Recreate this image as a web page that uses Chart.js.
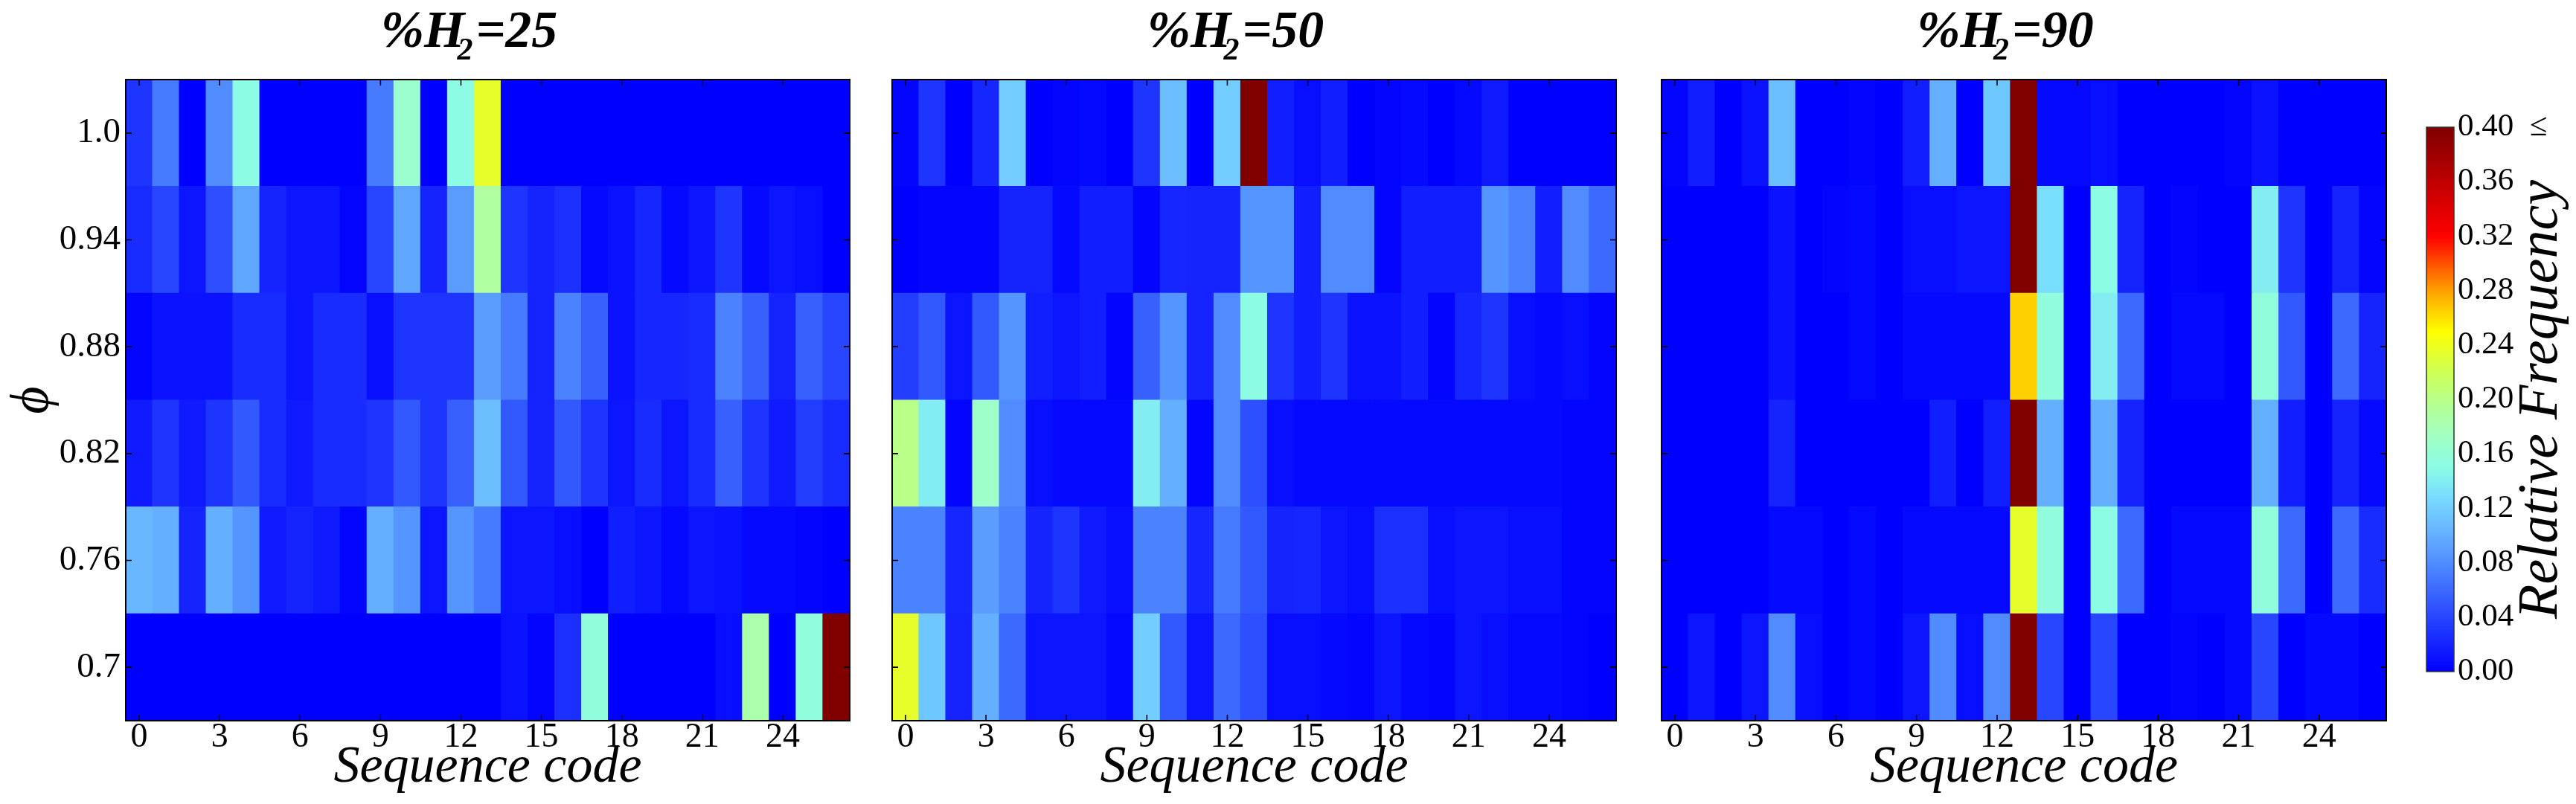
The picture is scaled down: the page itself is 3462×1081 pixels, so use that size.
<!DOCTYPE html>
<html>
<head>
<meta charset="utf-8">
<script src="https://cdn.jsdelivr.net/npm/chart.js@4.4.0/dist/chart.umd.min.js"></script>
<style>
  html, body { margin: 0; padding: 0; background: #ffffff; }
  #wrap { position: relative; width: 3462px; height: 1081px; overflow: hidden; background: #ffffff; }
  #wrap canvas { position: absolute; left: 0; top: 0; }
</style>
</head>
<body>
<div id="wrap">
  <canvas id="p1" width="3462" height="1081"></canvas>
  <canvas id="p2" width="3462" height="1081"></canvas>
  <canvas id="p3" width="3462" height="1081"></canvas>
  <canvas id="cb" width="3462" height="1081"></canvas>
</div>
<script>
// ---------------- DATA ----------------
// categories (sequence codes) and tick labels
const seqCodes = ['0','1','2','3','4','5','6','7','8','9','10','11','12','13','14','15','16','17','18','19','20','21','22','23','24','25','26'];
const xTickCodes = [0, 3, 6, 9, 12, 15, 18, 21, 24];
const phiLabels = ['0.7', '0.76', '0.82', '0.88', '0.94', '1.0'];   // bottom -> top
const h2Levels = ['25', '50', '90'];
const cbTicks = [0.00, 0.04, 0.08, 0.12, 0.16, 0.20, 0.24, 0.28, 0.32, 0.36, 0.40];
const cbTickLabels = ['0.00', '0.04', '0.08', '0.12', '0.16', '0.20', '0.24', '0.28', '0.32', '0.36', '0.40\u2002\u2264'];

// relative frequency, rows ordered phi = 0.7, 0.76, 0.82, 0.88, 0.94, 1.0 ; columns = sequence code 0..26
const freqH25 = [
  [0,0,0,0,0,0,0,0,0,0,0,0,0,0,0.01,0.003,0.027,0.155,0,0,0,0,0.008,0.185,0,0.155,0.42],
  [0.105,0.10,0.02,0.10,0.085,0.015,0.02,0.015,0.003,0.10,0.085,0.012,0.085,0.07,0.012,0.012,0.008,0,0.017,0.012,0.005,0.012,0.01,0.005,0.005,0.003,0],
  [0.015,0.03,0.015,0.03,0.05,0.025,0.015,0.025,0.025,0.03,0.05,0.03,0.055,0.11,0.05,0.02,0.05,0.03,0.012,0.025,0.012,0.025,0.055,0.03,0.015,0.035,0.025],
  [0.003,0.01,0.01,0.01,0.025,0.025,0.012,0.025,0.025,0.008,0.03,0.03,0.03,0.09,0.07,0.02,0.075,0.055,0.01,0.022,0.022,0.025,0.075,0.055,0.02,0.055,0.04],
  [0.025,0.04,0.012,0.045,0.095,0.02,0.012,0.012,0.003,0.04,0.095,0.02,0.09,0.19,0.03,0.02,0.027,0.005,0.01,0.022,0.005,0.012,0.03,0.005,0.012,0.008,0],
  [0.03,0.07,0,0.08,0.15,0,0,0,0,0.07,0.165,0,0.15,0.235,0,0,0,0,0,0,0,0,0,0,0,0,0]
];
const freqH50 = [
  [0.235,0.115,0.02,0.10,0.06,0.012,0.012,0.012,0.005,0.12,0.05,0.012,0.06,0.045,0.008,0.008,0.005,0.003,0.012,0.005,0.003,0.012,0.008,0.005,0.005,0.003,0],
  [0.075,0.075,0.022,0.09,0.075,0.02,0.03,0.015,0.008,0.075,0.075,0.022,0.07,0.05,0.02,0.022,0.012,0.008,0.027,0.027,0.008,0.012,0.012,0.008,0.008,0.003,0.003],
  [0.20,0.14,0.003,0.17,0.08,0.008,0.005,0.005,0.005,0.14,0.10,0.003,0.08,0.045,0.008,0.005,0.005,0.005,0.005,0.005,0.005,0.005,0.005,0.005,0.005,0.003,0.003],
  [0.035,0.05,0.012,0.05,0.085,0.017,0.012,0.017,0.003,0.055,0.085,0.02,0.08,0.15,0.03,0.017,0.03,0.01,0.01,0.017,0.003,0.022,0.03,0.008,0.005,0.008,0.003],
  [0,0.003,0.003,0.003,0.02,0.02,0.005,0.017,0.017,0.003,0.022,0.02,0.02,0.085,0.085,0.017,0.08,0.08,0.003,0.017,0.017,0.017,0.085,0.075,0.017,0.08,0.06],
  [0.003,0.03,0,0.022,0.12,0,0.003,0.005,0,0.03,0.11,0,0.12,0.42,0.017,0.008,0.017,0,0.003,0.005,0,0.005,0.015,0,0,0,0]
];
const freqH90 = [
  [0,0.012,0,0.012,0.08,0.008,0,0.005,0,0.012,0.08,0.008,0.08,0.42,0.04,0,0.04,0,0,0.003,0,0.005,0.04,0,0.005,0.005,0],
  [0,0,0,0,0.005,0.005,0,0.005,0,0.005,0.005,0.005,0.005,0.235,0.155,0,0.15,0.06,0,0.005,0.005,0.005,0.155,0.06,0,0.06,0.025],
  [0,0,0,0,0.02,0,0,0,0,0,0.017,0,0.017,0.42,0.10,0,0.10,0.02,0,0,0,0,0.10,0.017,0,0.02,0.005],
  [0,0,0,0,0.01,0,0,0.005,0,0.005,0.005,0.005,0.005,0.265,0.155,0,0.14,0.06,0,0.005,0.005,0,0.155,0.05,0,0.06,0.02],
  [0,0,0,0,0.01,0,0.003,0.005,0,0.008,0.008,0.012,0.012,0.42,0.13,0,0.15,0.02,0,0.003,0,0,0.14,0.03,0,0.02,0.003],
  [0.003,0.017,0,0.01,0.11,0,0,0.003,0,0.017,0.10,0,0.115,0.42,0.005,0.005,0.008,0,0,0,0,0.003,0.01,0,0,0,0]
];

// colour map (value -> rgb), saturates at 0.40
const cmapStops  = [0.00, 0.10, 0.13, 0.15, 0.17, 0.19, 0.22, 0.25, 0.28, 0.32, 0.40];
const cmapColors = [[0,0,255],[100,175,255],[122,222,255],[140,252,228],[158,255,200],[175,255,160],[205,255,85],[255,255,0],[255,160,0],[255,0,0],[128,0,0]];

// ---------------- STYLE / LAYOUT ----------------
const W = 3462, H = 1081;
const PLOT_TOP = 107, PLOT_BOTTOM = 969;
const SERIF = "'Liberation Serif', 'DejaVu Serif', serif";

function rgbStr(c) { return 'rgb(' + c[0] + ',' + c[1] + ',' + c[2] + ')'; }
function colorFor(v) {
  const vmax = cmapStops[cmapStops.length - 1];
  if (v <= cmapStops[0]) return rgbStr(cmapColors[0]);
  if (v >= vmax) return rgbStr(cmapColors[cmapColors.length - 1]);
  for (let i = 1; i < cmapStops.length; i++) {
    if (v <= cmapStops[i]) {
      const t = (v - cmapStops[i - 1]) / (cmapStops[i] - cmapStops[i - 1]);
      const a = cmapColors[i - 1], b = cmapColors[i];
      return rgbStr([0, 1, 2].map(k => Math.round(a[k] + (b[k] - a[k]) * t)));
    }
  }
}

Chart.defaults.font.family = SERIF;
Chart.defaults.color = '#000';

function drawPanelTitle(ctx, cx, baseline, level) {
  const big = "bold italic 70px " + SERIF;
  const small = "bold italic 42px " + SERIF;
  ctx.font = big;
  const w1 = ctx.measureText('%H').width;
  const w3 = ctx.measureText('=' + level).width;
  ctx.font = small;
  const w2 = ctx.measureText('2').width;
  const kern = -10, gap = 4;
  const total = w1 + kern + w2 + gap + w3;
  let x = cx - total / 2;
  ctx.fillStyle = '#000';
  ctx.textAlign = 'left';
  ctx.textBaseline = 'alphabetic';
  ctx.font = big;  ctx.fillText('%H', x, baseline); x += w1 + kern;
  ctx.font = small; ctx.fillText('2', x, baseline + 17); x += w2 + gap;
  ctx.font = big;  ctx.fillText('=' + level, x, baseline);
}

const panelDecor = {
  id: 'panelDecor',
  afterDatasetsDraw(chart, args, opts) {
    const { ctx, chartArea: a, scales: { x, y } } = chart;
    ctx.save();
    ctx.strokeStyle = '#000';
    ctx.lineWidth = 1.6;
    ctx.beginPath();
    xTickCodes.forEach(c => {
      const px = x.getPixelForValue(c);
      ctx.moveTo(px, a.top); ctx.lineTo(px, a.top + 8);
      ctx.moveTo(px, a.bottom); ctx.lineTo(px, a.bottom - 8);
    });
    phiLabels.forEach((_, i) => {
      const py = y.getPixelForValue(i);
      ctx.moveTo(a.left, py); ctx.lineTo(a.left + 8, py);
      ctx.moveTo(a.right, py); ctx.lineTo(a.right - 8, py);
    });
    ctx.stroke();
    ctx.lineWidth = 2;
    ctx.strokeRect(a.left, a.top, a.right - a.left, a.bottom - a.top);
    drawPanelTitle(ctx, (a.left + a.right) / 2 - 25, a.top - 44, opts.level);
    if (opts.showY) {
      // y-axis title (phi), rotated like a matplotlib ylabel
      ctx.save();
      ctx.translate(45, (a.top + a.bottom) / 2);
      ctx.rotate(-Math.PI / 2);
      ctx.font = "italic 72px " + SERIF;
      ctx.fillStyle = '#000';
      ctx.textAlign = 'center';
      ctx.textBaseline = 'middle';
      ctx.fillText('\u03D5', 0, 0);
      ctx.restore();
    }
    ctx.restore();
  }
};

function makePanel(id, rows, level, left, right, showY) {
  const yw = showY ? left : 10;
  const datasets = rows.map((vals, r) => ({
    data: vals.map(() => [r - 0.5, r + 0.5]),
    backgroundColor: vals.map(v => colorFor(v)),
    borderWidth: 0,
    grouped: false,
    barPercentage: 1,
    categoryPercentage: 1,
    inflateAmount: 0.6
  }));
  return new Chart(document.getElementById(id), {
    type: 'bar',
    data: { labels: seqCodes, datasets },
    options: {
      responsive: false, animation: false, events: [],
      devicePixelRatio: 1,
      layout: { autoPadding: false, padding: { left: left - yw, right: W - right, top: PLOT_TOP, bottom: 0 } },
      scales: {
        x: {
          type: 'category',
          afterFit: s => { s.height = H - PLOT_BOTTOM; },
          grid: { display: false, drawTicks: false },
          border: { display: false },
          ticks: {
            autoSkip: false, maxRotation: 0, minRotation: 0, padding: 0,
            font: { size: 46, lineHeight: 1 },
            callback: (v, i) => xTickCodes.includes(i) ? seqCodes[i] : ''
          },
          title: { display: true, text: 'Sequence code', padding: 0,
                   font: { size: 70, style: 'italic', lineHeight: 1.37 } }
        },
        y: {
          type: 'linear', min: -0.5, max: phiLabels.length - 0.5,
          afterFit: s => { s.width = yw; },
          afterBuildTicks: s => { s.ticks = phiLabels.map((_, i) => ({ value: i })); },
          grid: { display: false, drawTicks: false },
          border: { display: false },
          ticks: { display: showY, autoSkip: false, padding: 7, font: { size: 47 },
                   callback: (v, i) => phiLabels[i] },
          title: { display: false }
        }
      },
      plugins: { legend: { display: false }, tooltip: { enabled: false }, panelDecor: { level, showY } }
    },
    plugins: [panelDecor]
  });
}

makePanel('p1', freqH25, h2Levels[0], 169, 1142, true);
makePanel('p2', freqH50, h2Levels[1], 1199, 2172, false);
makePanel('p3', freqH90, h2Levels[2], 2233, 3207, false);

// ---------------- COLOUR BAR ----------------
const cbDecor = {
  id: 'cbDecor',
  afterDraw(chart) {
    const { ctx, chartArea: a } = chart;
    ctx.save();
    ctx.strokeStyle = '#333';
    ctx.lineWidth = 1.5;
    ctx.strokeRect(a.left, a.top, a.right - a.left, a.bottom - a.top);
    ctx.translate(a.right + 138, (a.top + a.bottom) / 2);
    ctx.rotate(-Math.PI / 2);
    ctx.font = "italic 76px " + SERIF;
    ctx.fillStyle = '#000';
    ctx.textAlign = 'center';
    ctx.textBaseline = 'alphabetic';
    ctx.fillText('Relative Frequency', 0, 0);
    ctx.restore();
  }
};

new Chart(document.getElementById('cb'), {
  type: 'bar',
  data: {
    labels: ['Relative Frequency'],
    datasets: [{
      data: [[cbTicks[0], cbTicks[cbTicks.length - 1]]],
      backgroundColor: (c) => {
        const ch = c.chart;
        if (!ch.chartArea) return rgbStr(cmapColors[0]);
        const ys = ch.scales.y;
        const vmax = cmapStops[cmapStops.length - 1];
        const g = ch.ctx.createLinearGradient(0, ys.getPixelForValue(0), 0, ys.getPixelForValue(vmax));
        cmapStops.forEach((s, i) => g.addColorStop(s / vmax, rgbStr(cmapColors[i])));
        return g;
      },
      borderWidth: 0, barPercentage: 1, categoryPercentage: 1
    }]
  },
  options: {
    responsive: false, animation: false, events: [],
    devicePixelRatio: 1,
    layout: { autoPadding: false, padding: { left: 3261, right: 0, top: 171, bottom: H - 903 } },
    scales: {
      x: { display: false },
      y: {
        position: 'right', min: cbTicks[0], max: cbTicks[cbTicks.length - 1],
        afterFit: s => { s.width = W - 3298; },
        afterBuildTicks: s => { s.ticks = cbTicks.map(v => ({ value: v })); },
        grid: { display: false, drawTicks: false },
        border: { display: false },
        ticks: { autoSkip: false, padding: 5, font: { size: 43 }, callback: (v, i) => cbTickLabels[i] }
      }
    },
    plugins: { legend: { display: false }, tooltip: { enabled: false } }
  },
  plugins: [cbDecor]
});
</script>
</body>
</html>
